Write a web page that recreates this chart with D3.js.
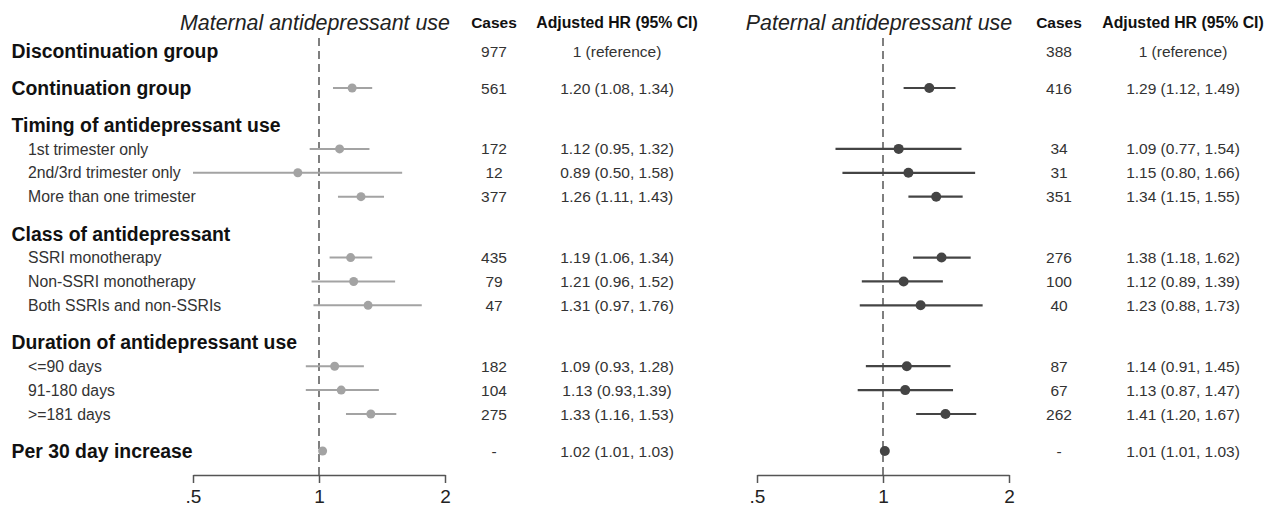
<!DOCTYPE html>
<html>
<head>
<meta charset="utf-8">
<script src="https://cdn.jsdelivr.net/npm/d3@7"></script>
<style>
  body { margin: 0; background: #fff; }
  svg { font-family: "Liberation Sans", Arial, sans-serif; }
</style>
</head>
<body>
<div id="chart"></div>
<script>
// rows of the forest plot
const labels = ['Discontinuation group', 'Continuation group', 'Timing of antidepressant use',
  '1st trimester only', '2nd/3rd trimester only', 'More than one trimester',
  'Class of antidepressant', 'SSRI monotherapy', 'Non-SSRI monotherapy', 'Both SSRIs and non-SSRIs',
  'Duration of antidepressant use', '<=90 days', '91-180 days', '>=181 days', 'Per 30 day increase'];
const isHeading = [true, true, true, false, false, false, true, false, false, false, true, false, false, false, true];

// maternal
const matCases = ['977', '561', '', '172', '12', '377', '', '435', '79', '47', '', '182', '104', '275', '-'];
const matHRText = ['1 (reference)', '1.20 (1.08, 1.34)', '', '1.12 (0.95, 1.32)', '0.89 (0.50, 1.58)', '1.26 (1.11, 1.43)',
  '', '1.19 (1.06, 1.34)', '1.21 (0.96, 1.52)', '1.31 (0.97, 1.76)', '', '1.09 (0.93, 1.28)', '1.13 (0.93,1.39)',
  '1.33 (1.16, 1.53)', '1.02 (1.01, 1.03)'];
const matHR = [null, 1.20, null, 1.12, 0.89, 1.26, null, 1.19, 1.21, 1.31, null, 1.09, 1.13, 1.33, 1.02];
const matLo = [null, 1.08, null, 0.95, 0.50, 1.11, null, 1.06, 0.96, 0.97, null, 0.93, 0.93, 1.16, 1.01];
const matHi = [null, 1.34, null, 1.32, 1.58, 1.43, null, 1.34, 1.52, 1.76, null, 1.28, 1.39, 1.53, 1.03];

// paternal
const patCases = ['388', '416', '', '34', '31', '351', '', '276', '100', '40', '', '87', '67', '262', '-'];
const patHRText = ['1 (reference)', '1.29 (1.12, 1.49)', '', '1.09 (0.77, 1.54)', '1.15 (0.80, 1.66)', '1.34 (1.15, 1.55)',
  '', '1.38 (1.18, 1.62)', '1.12 (0.89, 1.39)', '1.23 (0.88, 1.73)', '', '1.14 (0.91, 1.45)', '1.13 (0.87, 1.47)',
  '1.41 (1.20, 1.67)', '1.01 (1.01, 1.03)'];
const patHR = [null, 1.29, null, 1.09, 1.15, 1.34, null, 1.38, 1.12, 1.23, null, 1.14, 1.13, 1.41, 1.01];
const patLo = [null, 1.12, null, 0.77, 0.80, 1.15, null, 1.18, 0.89, 0.88, null, 0.91, 0.87, 1.20, 1.01];
const patHi = [null, 1.49, null, 1.54, 1.66, 1.55, null, 1.62, 1.39, 1.73, null, 1.45, 1.47, 1.67, 1.03];

const tickVals = [0.5, 1, 2];
const tickText = ['.5', '1', '2'];

const width = 1272, height = 507;
const svg = d3.select('#chart').append('svg')
  .attr('width', width).attr('height', height);

// vertical positions: bigger gap before headings
let acc = 0;
const units = labels.map((d, i) => {
  if (i > 0) acc += isHeading[i] ? 1.55 : 1;
  return acc;
});
const y = d3.scaleLinear().domain([0, acc]).range([51, 451]);

// row labels
svg.selectAll('text.lab')
  .data(labels)
  .enter().append('text')
  .attr('class', 'lab')
  .attr('x', (d, i) => isHeading[i] ? 11.5 : 28)
  .attr('y', (d, i) => y(units[i]))
  .attr('dy', '0.36em')
  .style('font-size', (d, i) => isHeading[i] ? '19.4px' : '15.8px')
  .style('font-weight', (d, i) => isHeading[i] ? 'bold' : 'normal')
  .attr('fill', (d, i) => isHeading[i] ? '#111' : '#333')
  .text(d => d);

function panel(opt) {
  const x = d3.scaleLog().base(2).domain([0.5, 2]).range([opt.x0, opt.x0 + 252]);
  const g = svg.append('g');

  g.append('text')
    .attr('x', x(1) - 4).attr('y', 22).attr('dy', '0.36em')
    .attr('text-anchor', 'middle')
    .style('font-size', '21.4px').style('font-style', 'italic')
    .attr('fill', '#222')
    .text(opt.title);

  g.append('text')
    .attr('x', opt.casesX).attr('y', 22).attr('dy', '0.36em')
    .attr('text-anchor', 'middle')
    .style('font-size', '15.5px').style('font-weight', 'bold')
    .attr('fill', '#111')
    .text('Cases');
  g.append('text')
    .attr('x', opt.hrX).attr('y', 22).attr('dy', '0.36em')
    .attr('text-anchor', 'middle')
    .style('font-size', '15.8px').style('font-weight', 'bold')
    .attr('fill', '#111')
    .text('Adjusted HR (95% CI)');

  // axis
  const axis = d3.axisBottom(x)
    .tickValues(tickVals)
    .tickFormat((d, i) => tickText[i])
    .tickSize(8)
    .tickSizeOuter(0);
  const ax = g.append('g')
    .attr('transform', 'translate(0,475)')
    .call(axis);
  ax.select('.domain').attr('stroke', '#555').attr('stroke-width', 1.5);
  ax.selectAll('.tick line').attr('stroke', '#555').attr('stroke-width', 1.5);
  ax.selectAll('.tick text')
    .attr('fill', '#222')
    .attr('dy', '0.9em')
    .style('font-size', '19px')
    .style('font-family', '"Liberation Sans", Arial, sans-serif');

  // reference line
  g.append('line')
    .attr('x1', x(1)).attr('x2', x(1))
    .attr('y1', 38).attr('y2', 475)
    .attr('stroke', '#555').attr('stroke-width', 1.5)
    .attr('stroke-dasharray', '8,5');

  const idx = labels.map((d, i) => i);

  g.selectAll('line.ci')
    .data(idx.filter(i => opt.hr[i] !== null))
    .enter().append('line')
    .attr('class', 'ci')
    .attr('x1', i => x(opt.lo[i])).attr('x2', i => x(opt.hi[i]))
    .attr('y1', i => y(units[i])).attr('y2', i => y(units[i]))
    .attr('stroke', opt.color).attr('stroke-width', opt.lw);

  g.selectAll('circle.pt')
    .data(idx.filter(i => opt.hr[i] !== null))
    .enter().append('circle')
    .attr('class', 'pt')
    .attr('cx', i => x(opt.hr[i]))
    .attr('cy', i => y(units[i]))
    .attr('r', opt.r)
    .attr('fill', opt.color);

  g.selectAll('text.cases')
    .data(idx.filter(i => opt.cases[i] !== ''))
    .enter().append('text')
    .attr('class', 'cases')
    .attr('x', opt.casesX).attr('y', i => y(units[i])).attr('dy', '0.36em')
    .attr('text-anchor', 'middle')
    .style('font-size', '15.5px').attr('fill', '#333')
    .text(i => opt.cases[i]);

  g.selectAll('text.hr')
    .data(idx.filter(i => opt.hrText[i] !== ''))
    .enter().append('text')
    .attr('class', 'hr')
    .attr('x', opt.hrX).attr('y', i => y(units[i])).attr('dy', '0.36em')
    .attr('text-anchor', 'middle')
    .style('font-size', '15.5px').attr('fill', '#333')
    .text(i => opt.hrText[i]);
}

panel({
  title: 'Maternal antidepressant use', x0: 193, casesX: 494, hrX: 617,
  cases: matCases, hrText: matHRText, hr: matHR, lo: matLo, hi: matHi,
  color: '#a3a3a3', lw: 2, r: 4.5
});
panel({
  title: 'Paternal antidepressant use', x0: 757, casesX: 1059, hrX: 1183,
  cases: patCases, hrText: patHRText, hr: patHR, lo: patLo, hi: patHi,
  color: '#444', lw: 2.2, r: 5
});
</script>
</body>
</html>
